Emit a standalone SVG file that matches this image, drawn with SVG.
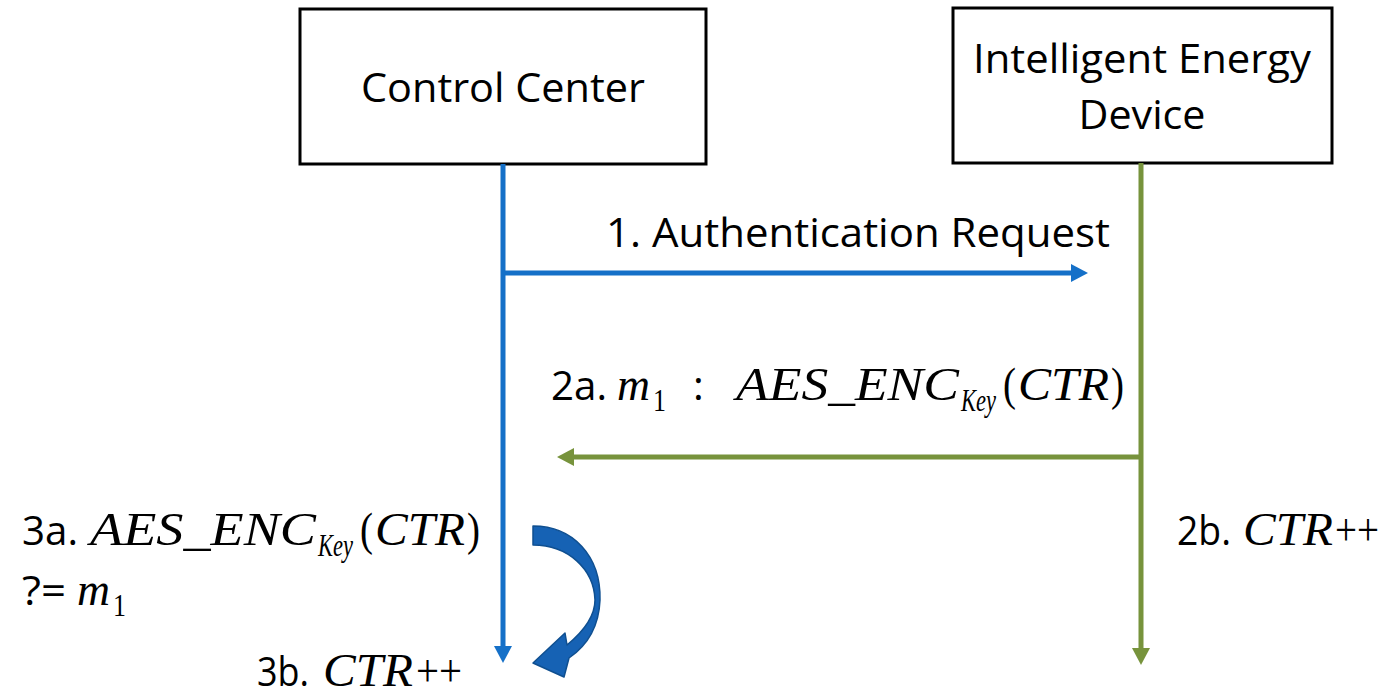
<svg xmlns="http://www.w3.org/2000/svg" width="1398" height="699" viewBox="0 0 1398 699">
  <style>
    .box { fill: #ffffff; stroke: #000000; stroke-width: 3; }
    .lbl { font-family: "Open Sans", "Liberation Sans", sans-serif; font-size: 41px; fill: #000000; }
    .mi { font-family: "Liberation Serif", "DejaVu Serif", serif; font-style: italic; font-size: 46px; fill: #000000; }
    .mu { font-family: "Liberation Serif", "DejaVu Serif", serif; font-size: 46px; fill: #000000; }
    .sub { font-size: 32px; }
    .blue { stroke: #1570c8; stroke-width: 5; fill: none; }
    .green { stroke: #77933c; stroke-width: 5; fill: none; }
  </style>
  <defs>
    <marker id="headBlue" markerUnits="userSpaceOnUse" markerWidth="18" markerHeight="19" refX="5" refY="9" orient="auto">
      <path d="M0,0 L17,9 L0,18 z" fill="#1570c8"/>
    </marker>
    <marker id="headGreen" markerUnits="userSpaceOnUse" markerWidth="18" markerHeight="19" refX="5" refY="9" orient="auto">
      <path d="M0,0 L17,9 L0,18 z" fill="#77933c"/>
    </marker>
  </defs>

  <g id="control-center">
    <rect class="box" x="300" y="9" width="406" height="155"/>
    <text class="lbl" x="503" y="102" text-anchor="middle" textLength="284" lengthAdjust="spacingAndGlyphs">Control Center</text>
  </g>

  <g id="intelligent-energy-device">
    <rect class="box" x="953" y="8" width="379" height="155"/>
    <text class="lbl" x="1142" y="73" text-anchor="middle" textLength="338" lengthAdjust="spacingAndGlyphs">Intelligent Energy</text>
    <text class="lbl" x="1142" y="129" text-anchor="middle" textLength="127" lengthAdjust="spacingAndGlyphs">Device</text>
  </g>

  <g id="connectors">
    <!-- lifelines -->
    <line class="blue" x1="503" y1="164" x2="503" y2="651" marker-end="url(#headBlue)"/>
    <line class="green" x1="1141" y1="163" x2="1141" y2="653" marker-end="url(#headGreen)"/>
    <!-- messages -->
    <line class="blue" x1="503" y1="273" x2="1076" y2="273" marker-end="url(#headBlue)"/>
    <line class="green" x1="1141" y1="457" x2="569" y2="457" marker-end="url(#headGreen)"/>
    <!-- curved self-step arrow -->
    <path id="self-step" d="M533,526 C573,526 601,556 600,600 C599,625 588,645 569,658 L564,677 L533,663 L565,633 L567,645 C584,631 595,616 595,600 C594,569 568,545 533,545 Z" fill="#1662b4" stroke="#0f4f90" stroke-width="1.5" stroke-linejoin="round"/>
  </g>

  <g id="label-1">
    <text class="lbl" x="606" y="247" textLength="504" lengthAdjust="spacingAndGlyphs">1. Authentication Request</text>
  </g>

  <g id="label-2a">
    <text class="lbl" x="551" y="400" textLength="56" lengthAdjust="spacingAndGlyphs">2a.</text>
    <text class="mi" x="617" y="400" textLength="33" lengthAdjust="spacingAndGlyphs">m</text>
    <text class="mu sub" x="653" y="411" textLength="13" lengthAdjust="spacingAndGlyphs">1</text>
    <text class="lbl" x="693" y="400">:</text>
    <text class="mi" x="736" y="400" textLength="223" lengthAdjust="spacingAndGlyphs">AES_ENC</text>
    <text class="mi sub" x="961" y="411" textLength="35" lengthAdjust="spacingAndGlyphs">Key</text>
    <text class="mu" x="1003" y="400" textLength="13" lengthAdjust="spacingAndGlyphs">(</text>
    <text class="mi" x="1018" y="400" textLength="91" lengthAdjust="spacingAndGlyphs">CTR</text>
    <text class="mu" x="1111" y="400" textLength="13" lengthAdjust="spacingAndGlyphs">)</text>
  </g>

  <g id="label-2b">
    <text class="lbl" x="1177" y="545" textLength="54" lengthAdjust="spacingAndGlyphs">2b.</text>
    <text class="mi" x="1243" y="545" textLength="90" lengthAdjust="spacingAndGlyphs">CTR</text>
    <text class="mu" x="1335" y="545" textLength="44" lengthAdjust="spacingAndGlyphs">++</text>
  </g>

  <g id="label-3a">
    <text class="lbl" x="22" y="545" textLength="56" lengthAdjust="spacingAndGlyphs">3a.</text>
    <text class="mi" x="90" y="545" textLength="226" lengthAdjust="spacingAndGlyphs">AES_ENC</text>
    <text class="mi sub" x="318" y="556" textLength="35" lengthAdjust="spacingAndGlyphs">Key</text>
    <text class="mu" x="360" y="545" textLength="13" lengthAdjust="spacingAndGlyphs">(</text>
    <text class="mi" x="375" y="545" textLength="90" lengthAdjust="spacingAndGlyphs">CTR</text>
    <text class="mu" x="467" y="545" textLength="13" lengthAdjust="spacingAndGlyphs">)</text>
    <text class="lbl" x="22" y="605" textLength="44" lengthAdjust="spacingAndGlyphs">?=</text>
    <text class="mi" x="77" y="605" textLength="33" lengthAdjust="spacingAndGlyphs">m</text>
    <text class="mu sub" x="113" y="616" textLength="13" lengthAdjust="spacingAndGlyphs">1</text>
  </g>

  <g id="label-3b">
    <text class="lbl" x="257" y="686" textLength="52" lengthAdjust="spacingAndGlyphs">3b.</text>
    <text class="mi" x="323" y="686" textLength="90" lengthAdjust="spacingAndGlyphs">CTR</text>
    <text class="mu" x="416" y="686" textLength="46" lengthAdjust="spacingAndGlyphs">++</text>
  </g>
</svg>
